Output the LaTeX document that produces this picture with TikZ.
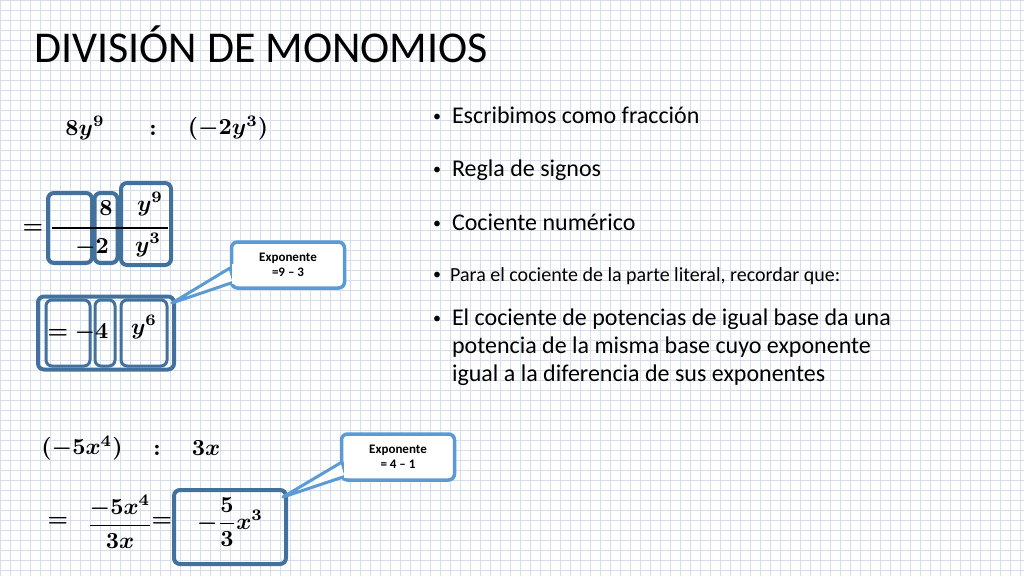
\documentclass[tikz,border=0pt]{standalone}
\usepackage{amsmath,bm,graphicx}
\usepackage{fontspec}
\setmainfont{Carlito}
\newcommand{\mymath}[1]{\scalebox{2.3}{$\bm{#1}$}}
\begin{document}
\begin{tikzpicture}[x=1pt,y=-1pt,
  dbox/.style={draw=boxdark,line width=4pt,rounded corners=6pt},
  call/.style={draw=boxlight,line width=3.5pt,fill=white,rounded corners=6pt},
  bul/.style={anchor=west,font=\fontsize{24}{28}\selectfont,inner sep=0},
  mth/.style={inner sep=0}]
\definecolor{boxdark}{HTML}{41719C}
\definecolor{boxlight}{HTML}{5B9BD5}
\definecolor{gridc}{HTML}{D5DEEA}
\useasboundingbox (0,0) rectangle (1024,576);
\fill[white] (0,0) rectangle (1024,576);
\foreach \i in {0,10,...,1020} \draw[gridc,line width=0.5pt] (\i,0) -- (\i,576);
\foreach \j in {0,10,...,570} \draw[gridc,line width=0.5pt] (0,\j) -- (1024,\j);
\node[anchor=west,inner sep=0,font=\fontsize{44}{50}\selectfont] (title) at (34,44) {DIVISIÓN DE MONOMIOS};
% bullets
\newcommand{\bl}{{\fontsize{16}{18}\selectfont\raisebox{2pt}{•}}\ \ }
\node[bul] (b1) at (433,115) {\bl Escribimos como fracción};
\node[bul] (b2) at (433,170) {\bl Regla de signos};
\node[bul] (b3) at (433,222) {\bl Cociente numérico};
\node[bul,font=\fontsize{20}{24}\selectfont] (b4) at (433,276) {\bl Para el cociente de la parte literal, recordar que:};
\node[bul,anchor=north west,align=left] (b5) at (433,309) {\bl El cociente de potencias de igual base da una\\\hphantom{\bl}potencia de la misma base cuyo exponente\\\hphantom{\bl}igual a la diferencia de sus exponentes};
% first example
\node[mth] (e1) at (85,128) {\mymath{8y^9}};
\node[mth] (c1) at (153,130) {\mymath{:}};
\node[mth] (e2) at (228,128) {\mymath{(-2y^3)}};
\node[mth] (eq1) at (33,229) {\mymath{=}};
\node[dbox,minimum width=44pt,minimum height=70pt] (bx1) at (70,228) {};
\node[dbox,minimum width=23pt,minimum height=70pt] (bx2) at (106,228) {};
\node[dbox,minimum width=50pt,minimum height=82pt] (bx3) at (146,224) {};
\draw[line width=1.5pt] (52,228) -- (168,228);
\node[mth] (n8) at (106,208) {\mymath{8}};
\node[mth] (d2) at (92,248) {\mymath{-2}};
\node[mth] (ny) at (150,204) {\mymath{y^9}};
\node[mth] (dy) at (148,245) {\mymath{y^3}};
% second row
\node[dbox,minimum width=136pt,minimum height=73pt] (outer) at (106,333) {};
\node[dbox,line width=3pt,minimum width=44pt,minimum height=66pt] (in1) at (68,333) {};
\node[dbox,line width=3pt,minimum width=20pt,minimum height=66pt] (in2) at (105,333) {};
\node[dbox,line width=3pt,minimum width=46pt,minimum height=66pt] (in3) at (144,333) {};
\node[mth] (r1) at (78,333) {\mymath{=-4}};
\node[mth] (r2) at (144,327) {\mymath{y^6}};
% callout 1
\coordinate (t1) at (172,303);
\node[call,minimum width=113pt,minimum height=46pt,align=center,font=\bfseries\fontsize{13}{15}\selectfont] (cl1) at (288,265) {Exponente\\=9 -- 3};
\fill[white,draw=boxlight,line width=3pt,line join=round] (t1) -- (230,268) -- (234,282) -- cycle;
\fill[white] (232,264) rectangle (240,284);
% third example
\node[mth] (f1) at (82,448) {\mymath{(-5x^4)}};
\node[mth] (c2) at (157,450) {\mymath{:}};
\node[mth] (f2) at (206,448) {\mymath{3x}};
\node[mth] (eq2) at (58,522) {\mymath{=}};
\node[mth] (fr) at (120,522) {\mymath{\dfrac{-5x^4}{3x}}};
\node[mth] (eq3) at (162,522) {\mymath{=}};
\node[dbox,minimum width=112pt,minimum height=74pt] (bx4) at (230,527) {};
\node[mth] (res) at (230,522) {\mymath{-\dfrac{5}{3}x^3}};
% callout 2
\coordinate (t2) at (283,497);
\node[call,minimum width=113pt,minimum height=46pt,align=center,font=\bfseries\fontsize{13}{15}\selectfont] (cl2) at (398,457) {Exponente\\= 4 -- 1};
\fill[white,draw=boxlight,line width=3pt,line join=round] (t2) -- (342,462) -- (346,476) -- cycle;
\fill[white] (344,458) rectangle (352,478);
\end{tikzpicture}
\end{document}
